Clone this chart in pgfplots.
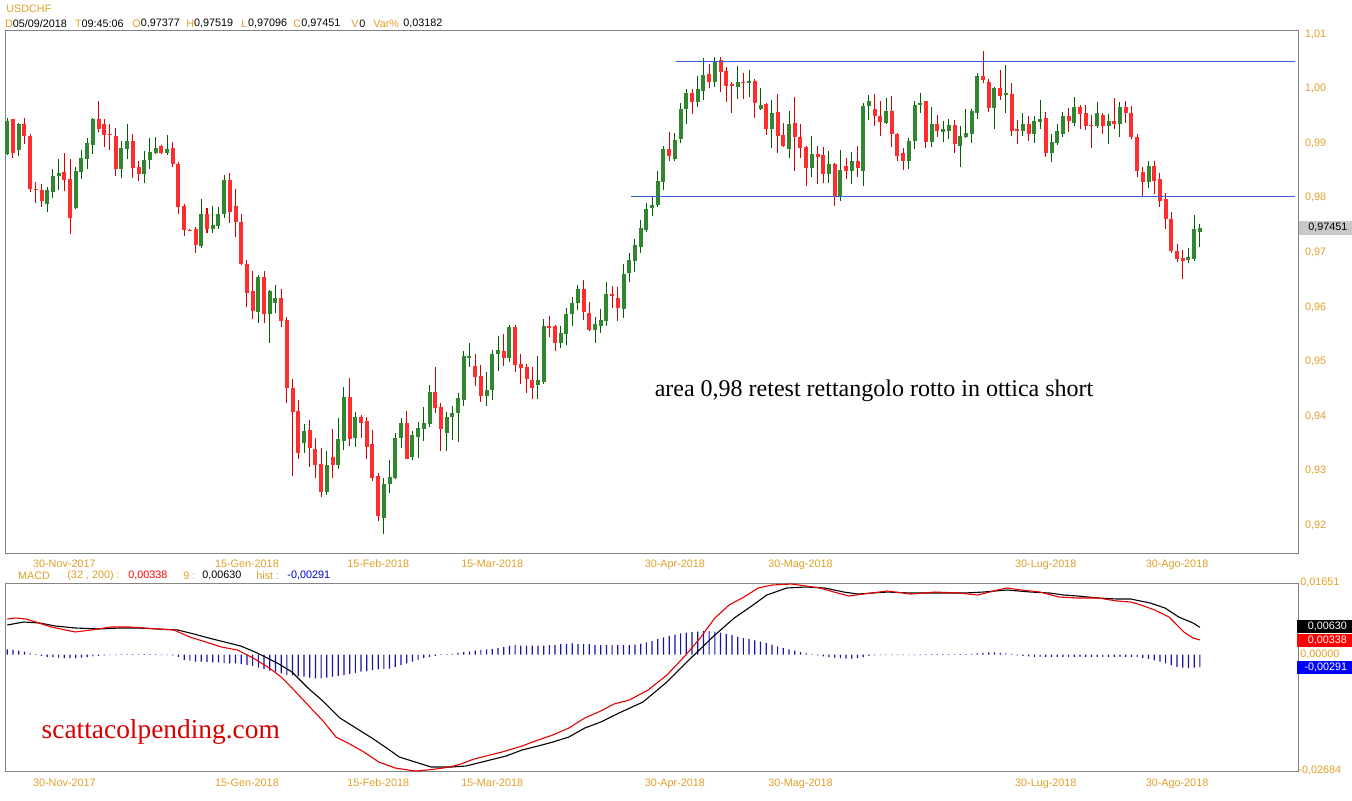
\documentclass[border=0pt]{standalone}
\usepackage{pgfplots}
\usepackage{pgfplotstable}
\pgfplotsset{compat=1.18}
\usepackage{fontspec}
\setmainfont{Liberation Sans}
\newfontfamily\serifont{Liberation Serif}

\definecolor{gold}{RGB}{225,160,40}
\definecolor{framegray}{RGB}{130,130,130}
\definecolor{gbody}{RGB}{48,135,48}
\definecolor{gwick}{RGB}{0,95,0}
\definecolor{rbody}{RGB}{255,45,45}
\definecolor{rwick}{RGB}{215,0,0}
\definecolor{srline}{RGB}{60,95,215}
\definecolor{histblue}{RGB}{20,20,170}
\definecolor{pricebox}{RGB}{200,200,200}
\newcommand{\ui}{\fontsize{5.4}{6}\selectfont}

% USDCHF daily candles, index 0..209
\pgfplotstableread{
i o h l c
0 0.9880 0.9946 0.9878 0.9941
1 0.9943 0.9944 0.9873 0.9882
2 0.9888 0.9937 0.9877 0.9935
3 0.9935 0.9946 0.9899 0.9913
4 0.9913 0.9917 0.9811 0.9816
5 0.9816 0.9829 0.9790 0.9814
6 0.9814 0.9825 0.9783 0.9794
7 0.9790 0.9820 0.9774 0.9814
8 0.9812 0.9853 0.9800 0.9840
9 0.9840 0.9871 0.9814 0.9845
10 0.9847 0.9882 0.9812 0.9833
11 0.9834 0.9871 0.9734 0.9763
12 0.9781 0.9856 0.9779 0.9849
13 0.9847 0.9888 0.9834 0.9873
14 0.9871 0.9910 0.9853 0.9899
15 0.9897 0.9946 0.9880 0.9943
16 0.9943 0.9977 0.9921 0.9926
17 0.9935 0.9944 0.9893 0.9915
18 0.9917 0.9935 0.9888 0.9915
19 0.9913 0.9928 0.9840 0.9853
20 0.9853 0.9904 0.9836 0.9891
21 0.9889 0.9935 0.9871 0.9904
22 0.9904 0.9917 0.9836 0.9855
23 0.9856 0.9867 0.9831 0.9845
24 0.9845 0.9886 0.9827 0.9869
25 0.9869 0.9910 0.9853 0.9884
26 0.9882 0.9911 0.9880 0.9891
27 0.9895 0.9897 0.9880 0.9882
28 0.9882 0.9915 0.9878 0.9889
29 0.9891 0.9902 0.9856 0.9862
30 0.9862 0.9866 0.9770 0.9783
31 0.9785 0.9789 0.9730 0.9741
32 0.9741 0.9743 0.9739 0.9740
33 0.9743 0.9747 0.9699 0.9715
34 0.9712 0.9798 0.9708 0.9770
35 0.9769 0.9781 0.9736 0.9743
36 0.9743 0.9785 0.9736 0.9750
37 0.9748 0.9783 0.9743 0.9770
38 0.9770 0.9842 0.9763 0.9833
39 0.9833 0.9845 0.9754 0.9774
40 0.9785 0.9816 0.9728 0.9756
41 0.9756 0.9770 0.9677 0.9679
42 0.9679 0.9686 0.9600 0.9627
43 0.9629 0.9666 0.9578 0.9594
44 0.9591 0.9659 0.9571 0.9655
45 0.9655 0.9666 0.9571 0.9587
46 0.9587 0.9631 0.9534 0.9629
47 0.9607 0.9640 0.9589 0.9616
48 0.9616 0.9633 0.9563 0.9574
49 0.9576 0.9582 0.9424 0.9452
50 0.9452 0.9468 0.9290 0.9408
51 0.9409 0.9430 0.9322 0.9333
52 0.9351 0.9386 0.9333 0.9373
53 0.9375 0.9393 0.9307 0.9342
54 0.9340 0.9360 0.9287 0.9312
55 0.9312 0.9342 0.9252 0.9261
56 0.9261 0.9336 0.9256 0.9311
57 0.9325 0.9377 0.9287 0.9312
58 0.9311 0.9397 0.9303 0.9358
59 0.9356 0.9453 0.9338 0.9435
60 0.9435 0.9470 0.9345 0.9358
61 0.9360 0.9408 0.9344 0.9399
62 0.9399 0.9402 0.9360 0.9388
63 0.9391 0.9399 0.9322 0.9344
64 0.9349 0.9375 0.9281 0.9287
65 0.9290 0.9296 0.9208 0.9217
66 0.9215 0.9287 0.9184 0.9276
67 0.9276 0.9320 0.9259 0.9289
68 0.9287 0.9369 0.9285 0.9360
69 0.9360 0.9397 0.9342 0.9388
70 0.9388 0.9409 0.9322 0.9323
71 0.9325 0.9373 0.9320 0.9366
72 0.9362 0.9389 0.9323 0.9378
73 0.9377 0.9417 0.9355 0.9388
74 0.9386 0.9457 0.9380 0.9444
75 0.9444 0.9490 0.9406 0.9415
76 0.9417 0.9424 0.9336 0.9378
77 0.9369 0.9408 0.9336 0.9399
78 0.9399 0.9419 0.9356 0.9406
79 0.9406 0.9442 0.9353 0.9433
80 0.9431 0.9519 0.9419 0.9510
81 0.9508 0.9534 0.9490 0.9510
82 0.9492 0.9514 0.9455 0.9472
83 0.9474 0.9494 0.9426 0.9437
84 0.9437 0.9481 0.9419 0.9448
85 0.9448 0.9521 0.9430 0.9514
86 0.9514 0.9547 0.9483 0.9521
87 0.9519 0.9551 0.9492 0.9508
88 0.9508 0.9567 0.9499 0.9563
89 0.9563 0.9567 0.9481 0.9494
90 0.9496 0.9514 0.9459 0.9488
91 0.9490 0.9496 0.9442 0.9468
92 0.9466 0.9490 0.9431 0.9452
93 0.9457 0.9510 0.9431 0.9466
94 0.9464 0.9578 0.9459 0.9565
95 0.9565 0.9584 0.9545 0.9562
96 0.9565 0.9567 0.9519 0.9534
97 0.9534 0.9565 0.9525 0.9552
98 0.9552 0.9598 0.9530 0.9587
99 0.9587 0.9618 0.9565 0.9607
100 0.9607 0.9640 0.9594 0.9633
101 0.9633 0.9650 0.9576 0.9591
102 0.9589 0.9609 0.9556 0.9558
103 0.9558 0.9582 0.9534 0.9569
104 0.9565 0.9596 0.9552 0.9576
105 0.9574 0.9646 0.9565 0.9624
106 0.9624 0.9638 0.9598 0.9620
107 0.9616 0.9637 0.9574 0.9598
108 0.9596 0.9679 0.9580 0.9660
109 0.9662 0.9699 0.9646 0.9686
110 0.9684 0.9725 0.9664 0.9714
111 0.9710 0.9759 0.9699 0.9745
112 0.9741 0.9790 0.9737 0.9779
113 0.9781 0.9802 0.9767 0.9787
114 0.9787 0.9849 0.9783 0.9831
115 0.9829 0.9895 0.9814 0.9889
116 0.9889 0.9921 0.9867 0.9877
117 0.9871 0.9919 0.9867 0.9906
118 0.9908 0.9974 0.9900 0.9963
119 0.9963 0.9999 0.9935 0.9992
120 0.9992 0.9999 0.9954 0.9976
121 0.9976 1.0023 0.9966 0.9998
122 0.9996 1.0056 0.9979 1.0025
123 1.0027 1.0045 1.0001 1.0012
124 1.0012 1.0058 1.0003 1.0049
125 1.0051 1.0058 0.9994 1.0030
126 1.0032 1.0040 0.9976 1.0005
127 1.0008 1.0012 0.9955 1.0005
128 1.0003 1.0041 0.9981 1.0012
129 1.0012 1.0029 0.9981 1.0010
130 1.0010 1.0034 0.9985 1.0014
131 1.0014 1.0018 0.9946 0.9974
132 0.9963 1.0001 0.9961 0.9970
133 0.9972 0.9974 0.9915 0.9926
134 0.9926 0.9979 0.9891 0.9955
135 0.9957 0.9990 0.9882 0.9913
136 0.9915 0.9937 0.9893 0.9895
137 0.9889 0.9959 0.9873 0.9935
138 0.9937 0.9985 0.9849 0.9911
139 0.9911 0.9935 0.9873 0.9891
140 0.9893 0.9895 0.9822 0.9856
141 0.9856 0.9913 0.9838 0.9880
142 0.9880 0.9895 0.9825 0.9875
143 0.9878 0.9893 0.9827 0.9844
144 0.9844 0.9886 0.9827 0.9862
145 0.9862 0.9864 0.9785 0.9803
146 0.9803 0.9888 0.9794 0.9851
147 0.9858 0.9873 0.9834 0.9849
148 0.9849 0.9884 0.9825 0.9867
149 0.9867 0.9895 0.9838 0.9855
150 0.9849 0.9974 0.9822 0.9968
151 0.9968 0.9988 0.9943 0.9976
152 0.9963 0.9990 0.9932 0.9950
153 0.9950 0.9977 0.9913 0.9939
154 0.9937 0.9983 0.9936 0.9959
155 0.9959 0.9987 0.9893 0.9917
156 0.9917 0.9919 0.9867 0.9877
157 0.9882 0.9891 0.9851 0.9867
158 0.9867 0.9910 0.9853 0.9904
159 0.9904 0.9977 0.9889 0.9970
160 0.9970 0.9992 0.9955 0.9974
161 0.9976 0.9977 0.9891 0.9902
162 0.9902 0.9966 0.9893 0.9935
163 0.9935 0.9952 0.9911 0.9922
164 0.9921 0.9941 0.9902 0.9926
165 0.9922 0.9944 0.9908 0.9932
166 0.9933 0.9943 0.9882 0.9899
167 0.9895 0.9932 0.9856 0.9913
168 0.9911 0.9963 0.9910 0.9919
169 0.9917 0.9963 0.9900 0.9959
170 0.9955 1.0029 0.9944 1.0023
171 1.0023 1.0069 1.0010 1.0016
172 1.0012 1.0018 0.9957 0.9965
173 0.9965 1.0003 0.9926 1.0001
174 1.0001 1.0034 0.9979 0.9987
175 0.9988 1.0043 0.9955 0.9992
176 0.9990 1.0010 0.9913 0.9922
177 0.9926 0.9943 0.9899 0.9922
178 0.9922 0.9955 0.9913 0.9935
179 0.9935 0.9950 0.9904 0.9917
180 0.9917 0.9950 0.9900 0.9941
181 0.9939 0.9979 0.9926 0.9944
182 0.9946 0.9957 0.9875 0.9882
183 0.9882 0.9917 0.9866 0.9902
184 0.9900 0.9935 0.9897 0.9921
185 0.9917 0.9957 0.9911 0.9950
186 0.9950 0.9965 0.9921 0.9941
187 0.9937 0.9985 0.9932 0.9965
188 0.9966 0.9970 0.9926 0.9954
189 0.9955 0.9970 0.9924 0.9932
190 0.9933 0.9952 0.9891 0.9932
191 0.9932 0.9976 0.9928 0.9954
192 0.9952 0.9955 0.9917 0.9932
193 0.9932 0.9954 0.9899 0.9941
194 0.9941 0.9983 0.9926 0.9935
195 0.9935 0.9976 0.9911 0.9966
196 0.9966 0.9977 0.9937 0.9955
197 0.9955 0.9968 0.9908 0.9911
198 0.9911 0.9917 0.9838 0.9849
199 0.9847 0.9856 0.9803 0.9829
200 0.9829 0.9867 0.9818 0.9858
201 0.9858 0.9867 0.9807 0.9831
202 0.9834 0.9845 0.9783 0.9794
203 0.9798 0.9809 0.9743 0.9761
204 0.9761 0.9774 0.9699 0.9704
205 0.9703 0.9715 0.9682 0.9688
206 0.9690 0.9704 0.9651 0.9684
207 0.9686 0.9708 0.9681 0.9692
208 0.9688 0.9769 0.9684 0.9743
209 0.97377 0.97519 0.97096 0.97451
}\ohlc

% MACD (32,200) line
\pgfplotstableread{
i v
0 0.00821
1.5 0.00844
3.3 0.00821
5 0.00752
7.7 0.00637
11.9 0.00522
14.7 0.00568
18.2 0.00637
21.5 0.00637
26.4 0.00591
29.2 0.00568
32 0.00406
34.8 0.00291
37.5 0.00176
40.3 0.00107
43.1 -0.00078
45.9 -0.00309
48 -0.00516
49.9 -0.00770
52.7 -0.01162
55.5 -0.01554
57.6 -0.01900
59.7 -0.02038
62.5 -0.02246
65.1 -0.02476
68 -0.02615
71.5 -0.02684
73.6 -0.02661
76.4 -0.02615
79 -0.02546
81.8 -0.02407
83.9 -0.02338
86.7 -0.02246
90.2 -0.02108
93 -0.01970
95.6 -0.01854
98.4 -0.01693
101.2 -0.01462
104 -0.01300
106.3 -0.01140
109 -0.01047
112.3 -0.00817
115.6 -0.00471
118.9 -0.00010
121.4 0.00378
124 0.00844
126.5 0.01144
129.1 0.01328
131.6 0.01536
134 0.01605
137.4 0.01628
140 0.01582
142.4 0.01536
144.9 0.01443
147.5 0.01351
150 0.01397
154.2 0.01467
158.4 0.01397
162.6 0.01443
166.8 0.01420
170.1 0.01374
173.5 0.01490
175.2 0.01536
177.7 0.01490
181 0.01443
184.3 0.01328
187.6 0.01305
191.2 0.01305
194.5 0.01236
196.9 0.01213
198.7 0.01144
201.1 0.01028
203.6 0.00867
206.2 0.00521
207.8 0.00383
209 0.00338
}\macdline

% signal line (9)
\pgfplotstableread{
i v
0 0.00683
2.9 0.00752
5.7 0.00729
8.4 0.00660
11.9 0.00614
16.1 0.00591
19.6 0.00614
22.9 0.00614
26.4 0.00591
29.9 0.00568
32.7 0.00476
35.3 0.00383
38.1 0.00291
40.9 0.00199
43.8 0.00038
47.3 -0.00193
49.9 -0.00401
52.7 -0.00770
55.5 -0.01093
58.3 -0.01462
61.1 -0.01693
63.9 -0.01924
66.5 -0.02154
68.7 -0.02361
71.5 -0.02477
74.3 -0.02592
77.8 -0.02592
80.4 -0.02569
83.9 -0.02454
87.4 -0.02338
90.2 -0.02200
93 -0.02108
95.6 -0.02016
98.4 -0.01900
101.2 -0.01693
104 -0.01554
107.2 -0.01347
111.4 -0.01093
115.6 -0.00632
119.8 -0.00079
124 0.00452
127.4 0.00844
130.7 0.01144
133.1 0.01374
136.6 0.01536
140 0.01559
143.3 0.01536
146.6 0.01443
149.1 0.01397
154.2 0.01443
158.4 0.01420
162.6 0.01420
167.7 0.01420
171 0.01443
175.2 0.01490
179.4 0.01443
182.7 0.01420
185.2 0.01374
187.6 0.01351
191.2 0.01305
194.5 0.01282
196.9 0.01282
200.3 0.01190
202.9 0.01074
205.3 0.00867
207.8 0.00729
209 0.00630
}\signalline

% histogram
\pgfplotstableread{
i v
0 0.0012
1 0.0011
2 0.0009
3 0.0007
4 0.0003
5 0.0001
6 -0.0003
7 -0.0005
8 -0.0006
9 -0.0007
10 -0.0008
11 -0.0008
12 -0.0008
13 -0.0007
14 -0.0006
15 -0.0004
16 -0.0003
17 -0.0002
18 -0.0001
19 -0.0001
20 0.0001
21 0.0001
22 0.0001
23 0.0001
24 0.0001
25 0.0001
26 0.0001
27 -0.0001
28 -0.0001
29 -0.0002
30 -0.0005
31 -0.0012
32 -0.0014
33 -0.0016
34 -0.0016
35 -0.0017
36 -0.0018
37 -0.0018
38 -0.0019
39 -0.0020
40 -0.0020
41 -0.0022
42 -0.0024
43 -0.0026
44 -0.0030
45 -0.0033
46 -0.0037
47 -0.0039
48 -0.0043
49 -0.0047
50 -0.0048
51 -0.0049
52 -0.0051
53 -0.0053
54 -0.0055
55 -0.0055
56 -0.0053
57 -0.0051
58 -0.0049
59 -0.0047
60 -0.0045
61 -0.0042
62 -0.0039
63 -0.0038
64 -0.0036
65 -0.0034
66 -0.0033
67 -0.0032
68 -0.0028
69 -0.0024
70 -0.0020
71 -0.0016
72 -0.0012
73 -0.0008
74 -0.0005
75 -0.0003
76 0.0001
77 0.0001
78 0.0002
79 0.0004
80 0.0006
81 0.0007
82 0.0009
83 0.0011
84 0.0012
85 0.0013
86 0.0015
87 0.0018
88 0.0021
89 0.0022
90 0.0021
91 0.0021
92 0.0021
93 0.0021
94 0.0021
95 0.0022
96 0.0022
97 0.0024
98 0.0025
99 0.0026
100 0.0025
101 0.0024
102 0.0024
103 0.0022
104 0.0022
105 0.0022
106 0.0022
107 0.0022
108 0.0022
109 0.0022
110 0.0023
111 0.0025
112 0.0028
113 0.0031
114 0.0036
115 0.0040
116 0.0043
117 0.0046
118 0.0049
119 0.0051
120 0.0052
121 0.0053
122 0.0054
123 0.0054
124 0.0053
125 0.0051
126 0.0048
127 0.0045
128 0.0041
129 0.0038
130 0.0036
131 0.0033
132 0.0030
133 0.0027
134 0.0023
135 0.0019
136 0.0015
137 0.0012
138 0.0009
139 0.0006
140 0.0003
141 0.0001
142 -0.0002
143 -0.0004
144 -0.0006
145 -0.0007
146 -0.0008
147 -0.0009
148 -0.0009
149 -0.0008
150 -0.0006
151 -0.0003
152 -0.0002
153 -0.0001
154 -0.0001
155 -0.0001
156 -0.0001
157 -0.0001
158 -0.0001
159 -0.0001
160 -0.0001
161 0.0001
162 0.0001
163 0.0001
164 0.0001
165 0.0001
166 0.0001
167 0.0001
168 0.0001
169 0.0002
170 0.0003
171 0.0004
172 0.0005
173 0.0005
174 0.0004
175 0.0003
176 0.0002
177 -0.0002
178 -0.0003
179 -0.0004
180 -0.0005
181 -0.0005
182 -0.0005
183 -0.0005
184 -0.0005
185 -0.0005
186 -0.0005
187 -0.0005
188 -0.0005
189 -0.0005
190 -0.0005
191 -0.0005
192 -0.0005
193 -0.0005
194 -0.0005
195 -0.0005
196 -0.0005
197 -0.0005
198 -0.0006
199 -0.0008
200 -0.0010
201 -0.0013
202 -0.0016
203 -0.0020
204 -0.0024
205 -0.0028
206 -0.0030
207 -0.0031
208 -0.0030
209 -0.0029
}\histo

\pgfplotsset{
  candle/.style 2 args={draw=none, forget plot,
    error bars/.cd, y dir=plus, y explicit, error mark=none,
    error bar style={draw=#1, line width=#2, solid}},
  panel/.style={scale only axis, width=646.5pt, xmin=-0.4, xmax=226.2,
    axis line style={draw=framegray, line width=0.5pt},
    major tick length=0pt,
    xtick={10,42,65,85,117,139,182,205},
    xticklabels={30-Nov-2017,15-Gen-2018,15-Feb-2018,15-Mar-2018,30-Apr-2018,30-Mag-2018,30-Lug-2018,30-Ago-2018},
    typeset ticklabels with strut,
    tick label style={font=\ui, text=gold}},
}

\begin{document}
\begin{tikzpicture}
\fill[white] (0,0) rectangle (676pt,-400pt);

% price panel
\begin{axis}[panel, at={(2.5pt,-15pt)}, anchor=north west, height=261.5pt,
  ymin=0.91495, ymax=1.01073,
  x tick label style={yshift=0.7pt},
  ytick={0.92,0.93,0.94,0.95,0.96,0.97,0.98,0.99,1.00,1.01},
  yticklabel pos=right,
  yticklabel={\pgfmathprintnumber[fixed,fixed zerofill,precision=2,use comma,assume math mode=true]{\tick}},
]
% wicks
\addplot[candle={gwick}{0.5pt}] table[x=i, y=l, y error expr=\thisrow{h}-\thisrow{l},
  restrict expr to domain={\thisrow{c}-\thisrow{o}}{0:1}] {\ohlc};
\addplot[candle={rwick}{0.5pt}] table[x=i, y=l, y error expr=\thisrow{h}-\thisrow{l},
  restrict expr to domain={\thisrow{o}-\thisrow{c}}{0.000001:1}] {\ohlc};
% bodies
\addplot[candle={gbody}{2pt}] table[x=i, y expr=\thisrow{o}-0.00005, y error expr=\thisrow{c}-\thisrow{o}+0.0001,
  restrict expr to domain={\thisrow{c}-\thisrow{o}}{0:1}] {\ohlc};
\addplot[candle={rbody}{2pt}] table[x=i, y expr=\thisrow{c}-0.00005, y error expr=\thisrow{o}-\thisrow{c}+0.0001,
  restrict expr to domain={\thisrow{o}-\thisrow{c}}{0.000001:1}] {\ohlc};
% rectangle bounds
\addplot[draw=srline, line width=0.65pt, forget plot] coordinates {(117.2,1.00495) (225.7,1.00495)};
\addplot[draw=srline, line width=0.65pt, forget plot] coordinates {(109.3,0.9802) (225.7,0.9802)};
\node[font=\serifont\fontsize{12}{14}\selectfont, inner sep=0pt] at (axis cs:151.9,0.9446)
  {area 0,98 retest rettangolo rotto in ottica short};
\end{axis}

% MACD panel
\begin{axis}[panel, at={(2.5pt,-291.5pt)}, anchor=north west, height=94pt,
  ymin=-0.02684, ymax=0.01651, ytick=\empty,
  x tick label style={yshift=-0.1pt},
]
\addplot[ybar, bar width=0.6pt, bar shift=0pt, fill=histblue, draw=none, forget plot] table[x=i, y=v] {\histo};
\addplot[black, line width=0.55pt] table[x=i, y=v] {\signalline};
\addplot[red!90!black, line width=0.55pt] table[x=i, y=v] {\macdline};
\node[text=red!85!black, font=\serifont\fontsize{13.7}{16}\selectfont, inner sep=0pt] at (axis cs:26.9,-0.01785) {scattacolpending.com};
\end{axis}

% header
\begin{scope}[every node/.style={anchor=west, inner sep=0pt, font=\ui}]
\node[text=gold] at (3pt,-4.3pt) {USDCHF};
\node[text=gold] at (2.3pt,-11.7pt) {D};
\node at (6.2pt,-11.7pt) {05/09/2018};
\node[text=gold] at (37.3pt,-11.7pt) {T};
\node at (40.6pt,-11.7pt) {09:45:06};
\node[text=gold] at (66pt,-11.7pt) {O};
\node at (70.2pt,-11.7pt) {0,97377};
\node[text=gold] at (93pt,-11.7pt) {H};
\node at (96.8pt,-11.7pt) {0,97519};
\node[text=gold] at (120.5pt,-11.7pt) {L};
\node at (123.8pt,-11.7pt) {0,97096};
\node[text=gold] at (146.5pt,-11.7pt) {C};
\node at (150.5pt,-11.7pt) {0,97451};
\node[text=gold] at (175.5pt,-11.7pt) {V};
\node at (179.5pt,-11.7pt) {0};
\node[text=gold] at (186.5pt,-11.7pt) {Var\%};
\node at (201.5pt,-11.7pt) {0,03182};
% MACD header
\node[text=gold] at (8.9pt,-287.8pt) {MACD};
\node[text=gold] at (33.5pt,-287.8pt) {(32 , 200) :};
\node[text=red] at (64pt,-287.8pt) {0,00338};
\node[text=gold] at (91.5pt,-287.8pt) {9 :};
\node at (101pt,-287.8pt) {0,00630};
\node[text=gold] at (128pt,-287.8pt) {hist :};
\node[text=blue!80!black] at (143.5pt,-287.8pt) {-0,00291};
% right side value boxes
\node[fill=pricebox, minimum width=26.5pt, minimum height=6.8pt, inner sep=0pt, align=center] at (649.5pt,-113.9pt) {\hspace*{2pt}0,97451};
\node[text=gold] at (650pt,-291.2pt) {0,01651};
\node[text=gold] at (649pt,-385pt) {-0,02684};
\node[fill=black, text=white, minimum width=27.5pt, minimum height=6.8pt] at (648.5pt,-313.2pt) {\hspace*{2.5pt}0,00630};
\node[fill=red, text=white, minimum width=27.5pt, minimum height=6.8pt] at (648.5pt,-320.2pt) {\hspace*{2.5pt}0,00338};
\node[text=gold] at (650pt,-327pt) {0,00000};
\node[fill=blue, text=white, minimum width=27.5pt, minimum height=6.8pt] at (648.5pt,-333.8pt) {\hspace*{1pt}-0,00291};
\end{scope}

\pgfresetboundingbox
\path[use as bounding box] (0,0) rectangle (676pt,-400pt);
\end{tikzpicture}
\end{document}
